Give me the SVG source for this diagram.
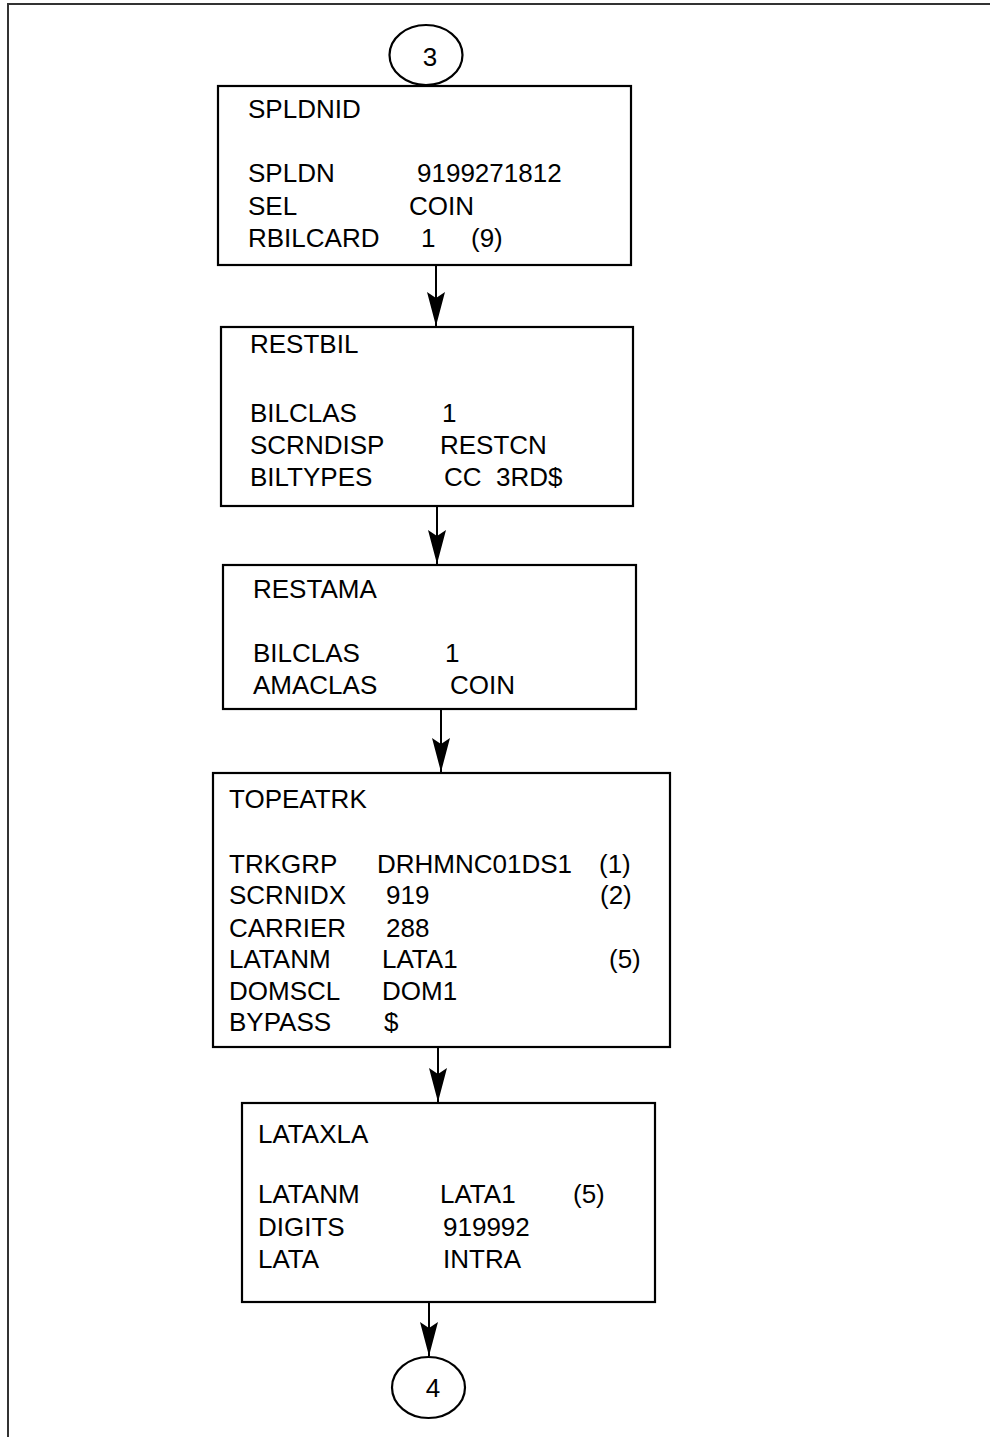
<svg xmlns="http://www.w3.org/2000/svg" width="990" height="1437" viewBox="0 0 990 1437">
<defs>
<style>
text{font-family:"Liberation Sans",Arial,sans-serif;font-size:26px;fill:#000}
.box{fill:#fff;stroke:#000;stroke-width:2.2}
.conn{stroke:#000;stroke-width:2;fill:none}
.frame{stroke:#333;stroke-width:2;fill:none}
</style>
<marker id="ah" markerUnits="userSpaceOnUse" markerWidth="34" markerHeight="20" viewBox="0 0 34 20" refX="34" refY="10" orient="auto">
<path d="M0,1 L34,10 L0,19 L6,10 Z" fill="#000"/>
</marker>
</defs>
<g id="frame">
<path class="frame" d="M8,1437 L8,4 L990,4"/>
</g>
<g id="connectors">
<line class="conn" x1="436" y1="265" x2="436" y2="326" marker-end="url(#ah)"/>
<line class="conn" x1="437" y1="506" x2="437" y2="564" marker-end="url(#ah)"/>
<line class="conn" x1="441" y1="709" x2="441" y2="772" marker-end="url(#ah)"/>
<line class="conn" x1="438" y1="1047" x2="438" y2="1102" marker-end="url(#ah)"/>
<line class="conn" x1="429" y1="1302" x2="429" y2="1356" marker-end="url(#ah)"/>
</g>
<g id="c3">
<ellipse class="box" cx="426" cy="55" rx="36.5" ry="30"/>
<text x="430" y="66" text-anchor="middle">3</text>
</g>
<g id="spldnid">
<rect class="box" x="218" y="86" width="413" height="179"/>
<text x="248" y="118">SPLDNID</text>
<text x="248" y="182">SPLDN</text><text x="417" y="182">9199271812</text>
<text x="248" y="215">SEL</text><text x="409" y="215">COIN</text>
<text x="248" y="247">RBILCARD</text><text x="421" y="247">1</text><text x="471" y="247">(9)</text>
</g>
<g id="restbil">
<rect class="box" x="221" y="327" width="412" height="179"/>
<text x="250" y="353">RESTBIL</text>
<text x="250" y="422">BILCLAS</text><text x="442" y="422">1</text>
<text x="250" y="454">SCRNDISP</text><text x="440" y="454">RESTCN</text>
<text x="250" y="486">BILTYPES</text><text x="444" y="486" xml:space="preserve">CC  3RD$</text>
</g>
<g id="restama">
<rect class="box" x="223" y="565" width="413" height="144"/>
<text x="253" y="598">RESTAMA</text>
<text x="253" y="662">BILCLAS</text><text x="445" y="662">1</text>
<text x="253" y="694">AMACLAS</text><text x="450" y="694">COIN</text>
</g>
<g id="topeatrk">
<rect class="box" x="213" y="773" width="457" height="274"/>
<text x="229" y="808">TOPEATRK</text>
<text x="229" y="873">TRKGRP</text><text x="377" y="873">DRHMNC01DS1</text><text x="599" y="873">(1)</text>
<text x="229" y="904">SCRNIDX</text><text x="386" y="904">919</text><text x="600" y="904">(2)</text>
<text x="229" y="937">CARRIER</text><text x="386" y="937">288</text>
<text x="229" y="968">LATANM</text><text x="382" y="968">LATA1</text><text x="609" y="968">(5)</text>
<text x="229" y="1000">DOMSCL</text><text x="382" y="1000">DOM1</text>
<text x="229" y="1031">BYPASS</text><text x="384" y="1031">$</text>
</g>
<g id="lataxla">
<rect class="box" x="242" y="1103" width="413" height="199"/>
<text x="258" y="1143">LATAXLA</text>
<text x="258" y="1203">LATANM</text><text x="440" y="1203">LATA1</text><text x="573" y="1203">(5)</text>
<text x="258" y="1236">DIGITS</text><text x="443" y="1236">919992</text>
<text x="258" y="1268">LATA</text><text x="443" y="1268">INTRA</text>
</g>
<g id="c4">
<ellipse class="box" cx="428.5" cy="1387.5" rx="36.5" ry="30.5"/>
<text x="433" y="1397" text-anchor="middle">4</text>
</g>
</svg>
